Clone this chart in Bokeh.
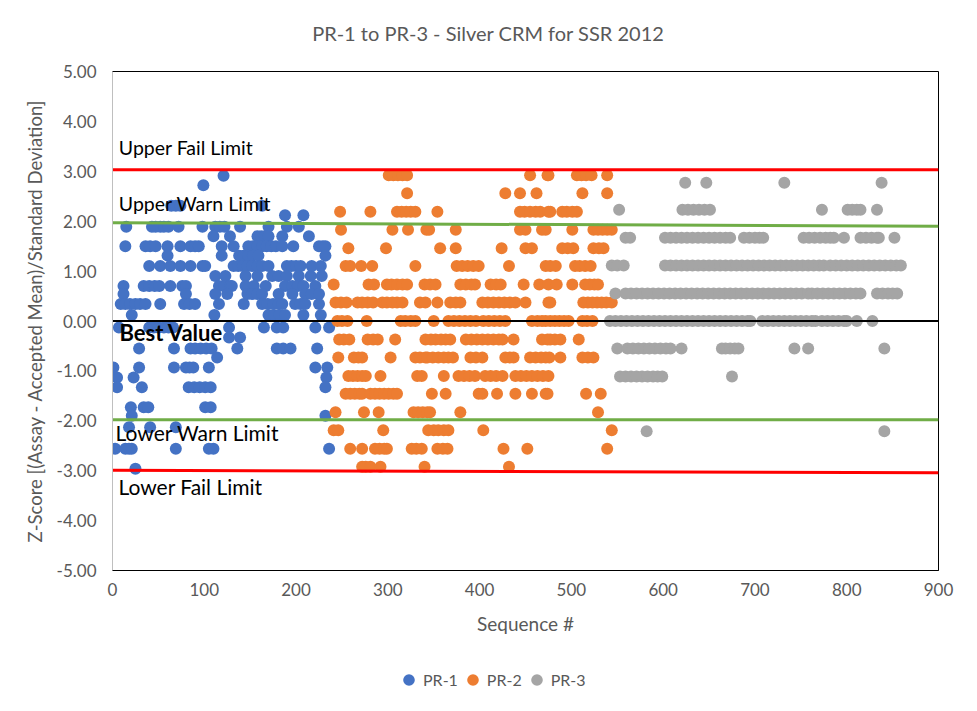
from bokeh.plotting import figure
from bokeh.layouts import column
from bokeh.models import (Legend, LegendItem, Label, FixedTicker,
                          NumeralTickFormatter, Range1d, ColumnDataSource)
from bokeh.core.properties import value
from bokeh.embed import file_html
from bokeh.resources import INLINE

# ---------------- data ----------------
chart_title = "PR-1 to PR-3 - Silver CRM for SSR 2012"
x_title = "Sequence #"
y_title = "Z-Score [(Assay - Accepted Mean)/Standard Deviation]"
series_names = ["PR-1", "PR-2", "PR-3"]
series_colors = ["#4472C4", "#ED7D31", "#A5A5A5"]
x_ticks = [0, 100, 200, 300, 400, 500, 600, 700, 800, 900]
y_ticks = [-5, -4, -3, -2, -1, 0, 1, 2, 3, 4, 5]

# PR-1 : z-score levels and the sequence numbers seen at each level
pr1_levels = [2.91, 2.72, 2.31, 2.12, 1.89, 1.70, 1.50, 1.31, 1.10, 0.90,
              0.70, 0.54, 0.34, 0.12, -0.13, -0.33, -0.55, -0.73, -0.93,
              -1.13, -1.33, -1.73, -1.90, -2.13, -2.56, -2.96]
pr1_seq = [
    [121],
    [99],
    [64, 69, 74, 163],
    [188, 208],
    [15, 43, 47, 52, 56, 61, 72, 98, 112, 117, 122, 139, 170, 190, 203],
    [110, 128, 158, 162, 166, 170, 185, 214],
    [14, 36, 41, 47, 60, 74, 85, 90, 94, 119, 132, 148, 153, 158, 163, 168,
     173, 178, 185, 197, 225, 229, 232],
    [60, 119, 138, 143, 148, 153, 159, 232],
    [40, 52, 63, 74, 85, 98, 101, 132, 137, 142, 147, 152, 158, 163, 170,
     190, 195, 200, 205, 217, 227],
    [112, 123, 145, 158, 174, 181, 190, 203, 216, 228],
    [12, 34, 40, 46, 51, 63, 76, 80, 116, 122, 128, 130, 145, 154, 167, 188,
     196, 202, 208, 221],
    [12, 80, 112, 125, 147, 152, 158, 163, 181, 196, 210, 217, 225],
    [9, 14, 19, 25, 30, 36, 52, 78, 84, 90, 116, 143, 163, 169, 175, 181,
     185, 199, 205, 210, 225],
    [21, 111, 170, 176, 182, 188, 208, 227],
    [7, 40, 45, 50, 56, 61, 66, 127, 165, 179, 186, 221, 236],
    [127, 139],
    [29, 67, 85, 90, 96, 102, 108, 136, 179, 186, 194, 223],
    [114],
    [1, 29, 67, 80, 84, 88, 105, 221, 234],
    [5, 23, 233],
    [5, 32, 83, 89, 95, 101, 107, 232],
    [20, 34, 39, 101, 107],
    [21, 232],
    [18, 41, 69],
    [3, 14, 18, 21, 69, 105, 110, 236],
    [25],
]

# PR-2
pr2_levels = [2.92, 2.56, 2.19, 1.83, 1.46, 1.10, 0.73, 0.37, 0.00, -0.37,
              -0.73, -1.10, -1.46, -1.83, -2.19, -2.56, -2.92]
pr2_seq = [
    [301, 306, 311, 316, 321, 455, 474, 475, 506, 511, 516, 522, 539],
    [321, 428, 444, 462, 512, 539],
    [248, 281, 310, 315, 320, 325, 330, 354, 444, 449, 455, 461, 466, 475,
     477, 490, 495, 501, 506],
    [249, 305, 322, 342, 345, 374, 444, 450, 468, 472, 501, 524, 529, 534,
     539, 544],
    [257, 298, 357, 374, 424, 450, 457, 490, 496, 502, 524, 530, 535],
    [254, 259, 271, 283, 330, 375, 381, 387, 393, 399, 432, 472, 477, 483,
     504, 509, 515, 521],
    [241, 279, 285, 299, 304, 310, 316, 321, 340, 346, 352, 379, 385, 391,
     395, 412, 418, 423, 448, 465, 475, 484, 501, 515, 520, 525, 529],
    [243, 249, 255, 267, 272, 278, 284, 294, 299, 305, 310, 316, 335, 341,
     354, 368, 374, 379, 403, 409, 415, 421, 427, 433, 439, 450, 475, 477,
     513, 518, 523, 528, 533, 538, 544],
    [245, 250, 256, 277, 314, 319, 325, 330, 350, 366, 372, 378, 384, 390,
     396, 404, 410, 416, 422, 428, 457, 463, 468, 472, 477, 482, 487, 492,
     497, 512, 517, 523],
    [247, 252, 258, 278, 284, 289, 308, 341, 347, 352, 358, 363, 368, 385,
     391, 397, 403, 409, 415, 421, 425, 437, 468, 474, 477, 482, 488, 508],
    [246, 263, 268, 272, 303, 330, 335, 341, 343, 349, 355, 361, 366, 371,
     390, 396, 403, 428, 433, 437, 455, 461, 467, 472, 476, 488, 512, 518,
     524],
    [257, 262, 267, 272, 276, 292, 332, 337, 361, 377, 383, 389, 395, 406,
     412, 418, 425, 439, 445, 451, 457, 463, 469, 475],
    [254, 259, 264, 269, 272, 281, 286, 291, 296, 301, 306, 310, 348, 363,
     399, 403, 419, 439, 457, 472, 474, 516, 532],
    [243, 274, 290, 328, 333, 338, 343, 346, 379, 529],
    [241, 246, 295, 344, 350, 355, 361, 366, 404, 544],
    [259, 272, 286, 291, 296, 299, 326, 331, 337, 354, 360, 365, 426, 452,
     539],
    [272, 276, 281, 292, 340, 432],
]

# PR-3
pr3_levels = [2.77, 2.23, 1.67, 1.11, 0.55, 0.00, -0.55, -1.11, -2.21]
pr3_seq = [
    [624, 647, 732, 838],
    [552, 621, 627, 633, 639, 645, 651, 773, 801, 806, 811, 815, 833],
    [559, 564, 602, 608, 614, 620, 626, 632, 638, 644, 650, 656, 662, 668,
     673, 688, 694, 700, 705, 709, 753, 759, 765, 771, 777, 782, 786, 797,
     815, 821, 827, 833, 835, 852],
    [544, 550, 557, 602, 608, 614, 620, 626, 632, 638, 644, 650, 656, 662,
     668, 674, 680, 686, 692, 698, 704, 710, 716, 722, 728, 734, 740, 746,
     752, 758, 764, 770, 775, 782, 788, 794, 800, 806, 812, 818, 824, 830,
     836, 842, 848, 854, 859],
    [548, 559, 565, 571, 577, 583, 589, 595, 601, 607, 613, 619, 625, 631,
     637, 643, 649, 655, 661, 667, 673, 679, 685, 691, 697, 703, 709, 715,
     721, 727, 733, 739, 745, 751, 758, 762, 768, 774, 780, 786, 792, 798,
     804, 810, 815, 833, 839, 845, 850, 855],
    [542, 548, 554, 560, 566, 572, 578, 584, 590, 596, 602, 608, 614, 620,
     626, 632, 638, 644, 650, 656, 662, 668, 674, 680, 686, 692, 695, 708,
     714, 720, 726, 732, 738, 744, 750, 756, 762, 766, 773, 779, 785, 791,
     797, 800, 811, 828],
    [550, 561, 567, 573, 579, 585, 591, 597, 603, 608, 620, 664, 668, 673,
     678, 682, 743, 758, 841],
    [553, 559, 565, 571, 577, 583, 589, 594, 599, 675],
    [582, 841],
]

# limit lines
limit_x = [0, 900]
upper_fail = [3.03, 3.03]
upper_warn = [1.97, 1.90]
best_value = [0.0, 0.0]
lower_warn = [-1.98, -1.98]
lower_fail = [-2.99, -3.04]
limit_names = ["Upper Fail Limit", "Upper Warn Limit", "Best Value",
               "Lower Warn Limit", "Lower Fail Limit"]


def flatten(levels, seqs):
    xs, ys = [], []
    for lv, sq in zip(levels, seqs):
        xs.extend(sq)
        ys.extend([lv] * len(sq))
    return xs, ys


FONT = "Lato"
GREY_TXT = "#595959"
W = 961


def bare(fig):
    fig.axis.visible = False
    fig.xgrid.visible = False
    fig.ygrid.visible = False
    fig.outline_line_color = None
    fig.background_fill_color = "white"
    fig.border_fill_color = "white"


# ---- title strip ----
tf = figure(width=W, height=45, output_backend="svg", toolbar_location=None,
            x_range=Range1d(0, 900), y_range=Range1d(0, 45),
            min_border_left=112, min_border_right=23, min_border_top=0,
            min_border_bottom=0)
bare(tf)
tf.text(x=[409.6], y=[13], text=[chart_title], text_font=value(FONT),
        text_font_size="20px", text_color=GREY_TXT, text_align="center",
        text_baseline="middle")

# ---- main chart ----
p = figure(width=W, height=600, output_backend="svg", toolbar_location=None,
           x_range=Range1d(0, 900), y_range=Range1d(-5, 5),
           min_border_left=112, min_border_right=23,
           min_border_top=26, min_border_bottom=75)
p.xgrid.visible = False
p.ygrid.visible = False
p.outline_line_color = "black"
p.outline_line_width = 1
p.background_fill_color = "white"
p.border_fill_color = "white"

for ax in (p.xaxis[0], p.yaxis[0]):
    ax.major_tick_line_color = None
    ax.minor_tick_line_color = None
    ax.major_label_text_font = FONT
    ax.major_label_text_font_size = "17px"
    ax.major_label_text_color = GREY_TXT
    ax.axis_label_text_font = FONT
    ax.axis_label_text_font_size = "19px"
    ax.axis_label_text_font_style = "normal"
    ax.axis_label_text_color = GREY_TXT
p.yaxis.axis_label_text_font_size = "18.5px"

p.xaxis.ticker = FixedTicker(ticks=x_ticks)
p.yaxis.ticker = FixedTicker(ticks=y_ticks)
p.yaxis.formatter = NumeralTickFormatter(format="0.00")
p.xaxis.axis_label = x_title
p.yaxis.axis_label = y_title
p.xaxis.major_label_standoff = 6
p.xaxis.axis_label_standoff = 13
p.yaxis.major_label_standoff = 10
p.yaxis.axis_label_standoff = 8
p.xaxis.axis_line_color = "black"
p.yaxis.axis_line_color = "#BFBFBF"

sources = []
for name, color, lv, sq in zip(series_names, series_colors,
                                [pr1_levels, pr2_levels, pr3_levels],
                                [pr1_seq, pr2_seq, pr3_seq]):
    xs, ys = flatten(lv, sq)
    src = ColumnDataSource(dict(x=xs, y=ys))
    sources.append(src)
    p.scatter("x", "y", source=src, size=12, fill_color=color,
              line_color=None, marker="circle")

p.line(limit_x, upper_fail, line_color="#FF0000", line_width=3)
p.line(limit_x, lower_fail, line_color="#FF0000", line_width=3)
p.line(limit_x, upper_warn, line_color="#70AD47", line_width=3)
p.line(limit_x, lower_warn, line_color="#70AD47", line_width=3)
p.line(limit_x, best_value, line_color="black", line_width=2)

label_pos = [(6.9, 3.47, "normal", "19.5px"), (6.9, 2.355, "normal", "19.5px"),
             (7.5, -0.23, "bold", "22px"), (3.3, -2.23, "normal", "21px"),
             (6.5, -3.32, "normal", "21px")]
for txt, (lx, ly, style, fs) in zip(limit_names, label_pos):
    p.add_layout(Label(x=lx, y=ly, text=txt, text_font=FONT,
                       text_font_size=fs, text_font_style=style,
                       text_color="black", text_baseline="middle",
                       text_align="left"))

# ---- legend strip below the chart ----
lg = figure(width=W, height=50, output_backend="svg", toolbar_location=None,
            x_range=Range1d(-100, -99), y_range=Range1d(-100, -99),
            min_border_left=112, min_border_right=23, min_border_top=0,
            min_border_bottom=0)
bare(lg)
items = []
for name, color, src in zip(series_names, series_colors, sources):
    r = lg.scatter("x", "y", source=src, size=12, fill_color=color,
                   line_color=None, marker="circle")
    items.append(LegendItem(label=name, renderers=[r]))
legend = Legend(items=items, orientation="horizontal", location=(282, 1),
                border_line_color=None, background_fill_alpha=0,
                label_text_font=FONT, label_text_font_size="16px",
                label_text_color=GREY_TXT, glyph_width=29, glyph_height=29,
                label_standoff=-4, spacing=0, margin=0, padding=0)
lg.add_layout(legend, "center")

layout = column(tf, p, lg, spacing=0)
open("out.html", "w").write(file_html(layout, INLINE))
